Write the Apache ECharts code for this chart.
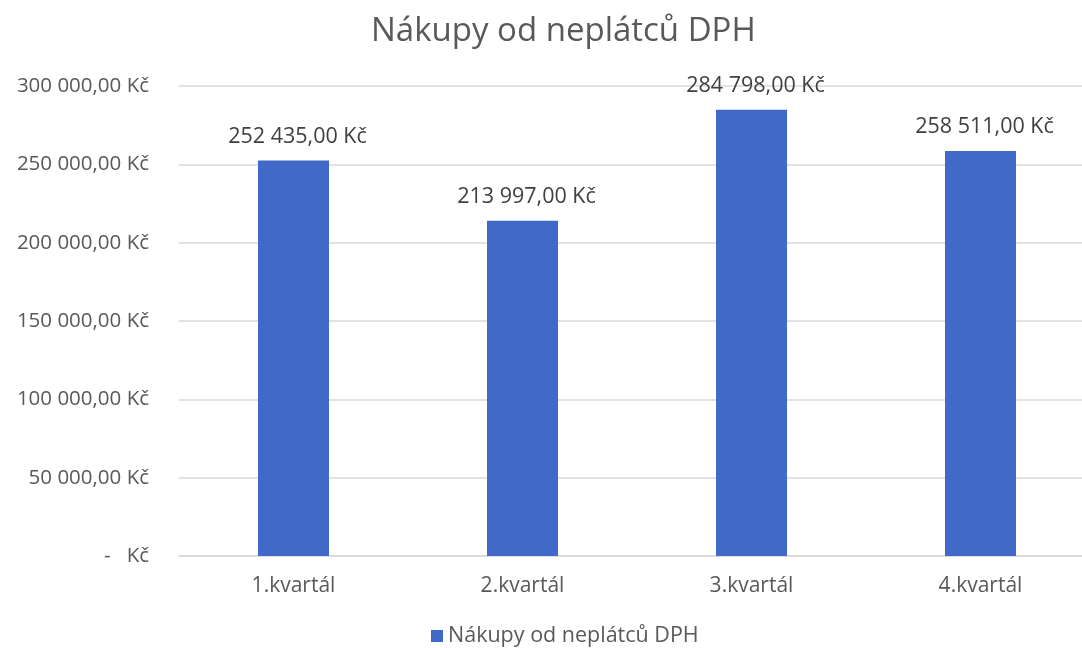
<!DOCTYPE html>
<html><head><meta charset="utf-8">
<script src="https://cdn.jsdelivr.net/npm/echarts@6/dist/echarts.min.js"></script>
<style>html,body{margin:0;padding:0;background:#fff}#c{width:1082px;height:648px}</style>
</head><body><div id="c"></div>
<script>
const categories = ['1.kvartál', '2.kvartál', '3.kvartál', '4.kvartál'];
const values = [252435, 213997, 284798, 258511];
const seriesName = 'Nákupy od neplátců DPH';
const yTicks = [0, 50000, 100000, 150000, 200000, 250000, 300000];

function fmt(v) {
  if (v === 0) return '-   Kč';
  const s = Math.round(v).toString().replace(/\B(?=(\d{3})+(?!\d))/g, ' ');
  return s + ',00 Kč';
}
const font = '"Open Sans", "Liberation Sans", sans-serif';
const chart = echarts.init(document.getElementById('c'));
chart.setOption({
  animation: false,
  title: { text: seriesName, left: 366, top: 10,
    textStyle: { fontFamily: font, fontSize: 33, fontWeight: 'normal', color: '#595959' } },
  legend: { data: [seriesName], bottom: -4, left: 426, itemWidth: 12, itemHeight: 12, icon: 'rect', itemGap: 8,
    textStyle: { fontFamily: font, fontSize: 21.5, color: '#595959' } },
  grid: { left: 179, width: 916, top: 86, height: 470, outerBoundsMode: 'none', containLabel: false },
  xAxis: { type: 'category', data: categories,
    axisLine: { lineStyle: { color: '#d9d9d9', width: 1.5 } }, axisTick: { show: false },
    axisLabel: { fontFamily: font, fontSize: 21, color: '#595959', margin: 20 } },
  yAxis: { type: 'value', min: 0, max: 300000, interval: 50000,
    axisLine: { show: false }, axisTick: { show: false },
    splitLine: { lineStyle: { color: '#d9d9d9', width: 1.5 } },
    axisLabel: { fontFamily: font, fontSize: 20.5, color: '#595959', margin: 30, formatter: fmt } },
  series: [{ name: seriesName, type: 'bar', data: values, barWidth: 71,
    itemStyle: { color: '#4169c7' },
    label: { show: true, position: 'top', distance: 13, offset: [4, 0], fontFamily: font, fontSize: 21.5, color: '#404040',
      formatter: p => fmt(p.value) } }]
});
</script></body></html>
